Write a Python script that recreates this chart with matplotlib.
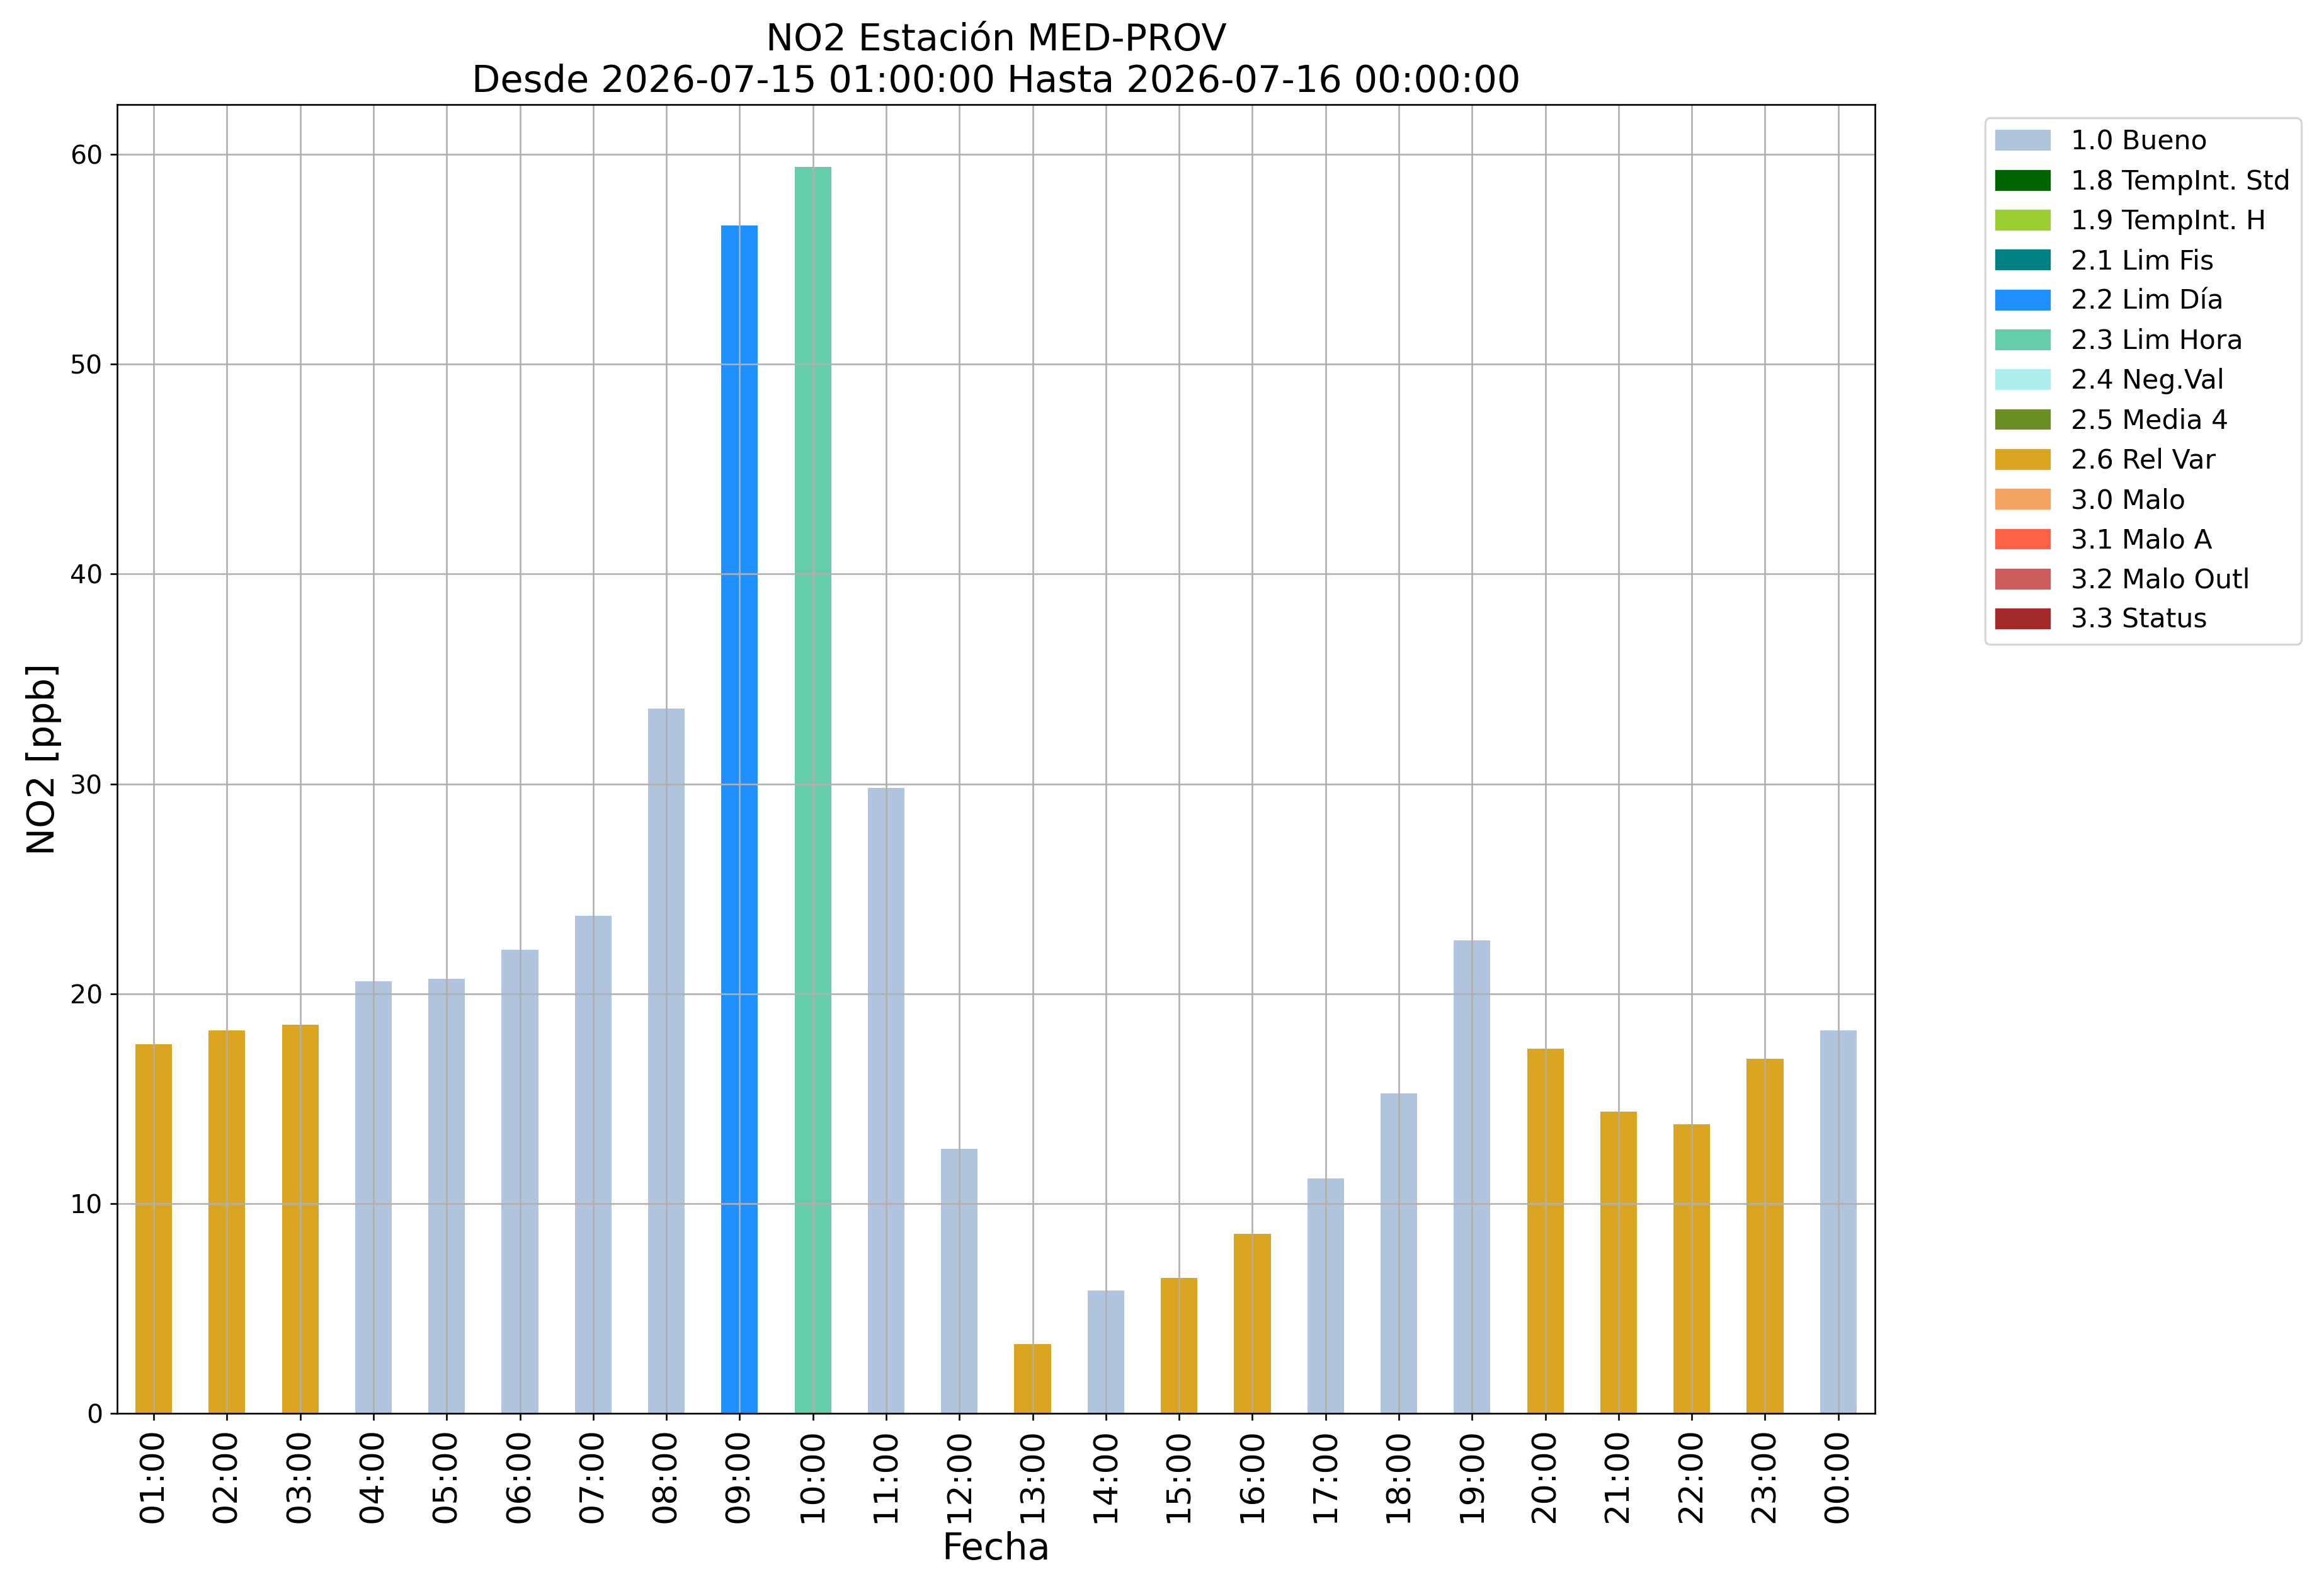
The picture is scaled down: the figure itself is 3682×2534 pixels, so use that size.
import matplotlib
matplotlib.use('Agg')
import matplotlib.pyplot as plt
import matplotlib.patches as mpatches
import numpy as np

# Datos NO2 por hora
horas = ['01:00', '02:00', '03:00', '04:00', '05:00', '06:00', '07:00', '08:00',
         '09:00', '10:00', '11:00', '12:00', '13:00', '14:00', '15:00', '16:00',
         '17:00', '18:00', '19:00', '20:00', '21:00', '22:00', '23:00', '00:00']
valores = [17.58, 18.24, 18.52, 20.58, 20.70, 22.1, 23.7, 33.6,
           56.6, 59.4, 29.8, 12.6, 3.3, 5.85, 6.45, 8.55,
           11.2, 15.25, 22.55, 17.39, 14.37, 13.77, 16.89, 18.26]
flags = ['2.6', '2.6', '2.6', '1.0', '1.0', '1.0', '1.0', '1.0',
         '2.2', '2.3', '1.0', '1.0', '2.6', '1.0', '2.6', '2.6',
         '1.0', '1.0', '1.0', '2.6', '2.6', '2.6', '2.6', '1.0']

# Codigos de validacion
codigos = ['1.0', '1.8', '1.9', '2.1', '2.2', '2.3', '2.4', '2.5', '2.6',
           '3.0', '3.1', '3.2', '3.3']
etiquetas = ['1.0 Bueno', '1.8 TempInt. Std', '1.9 TempInt. H', '2.1 Lim Fis',
             '2.2 Lim Día', '2.3 Lim Hora', '2.4 Neg.Val', '2.5 Media 4',
             '2.6 Rel Var', '3.0 Malo', '3.1 Malo A', '3.2 Malo Outl', '3.3 Status']
colores = ['lightsteelblue', 'darkgreen', 'yellowgreen', 'teal', 'dodgerblue',
           'mediumaquamarine', 'paleturquoise', 'olivedrab', 'goldenrod',
           'sandybrown', 'tomato', 'indianred', 'brown']

dpi = 236
fig = plt.figure(figsize=(3682 / dpi, 2534 / dpi), dpi=dpi)
ax = fig.add_axes([0.0505, 0.1144, 0.758, 0.8201])

x = np.arange(len(horas))
for cod, col in zip(codigos, colores):
    alturas = [v if f == cod else 0 for v, f in zip(valores, flags)]
    ax.bar(x, alturas, width=0.5, color=col)

ax.set_xlim(-0.5, len(horas) - 0.5)
ax.set_xticks(x)
ax.set_xticklabels(horas, rotation=90, fontsize=16)
ax.tick_params(axis='y', labelsize=12.5)
ax.grid(True)

ax.set_title('NO2 Estación MED-PROV\nDesde 2026-07-15 01:00:00 Hasta 2026-07-16 00:00:00',
             fontsize=18)
ax.set_xlabel('Fecha', fontsize=18)
ax.set_ylabel('NO2 [ppb]', fontsize=18)

handles = [mpatches.Patch(color=c, label=l) for c, l in zip(colores, etiquetas)]
ax.legend(handles=handles, bbox_to_anchor=(1.055, 1), loc='upper left',
          fontsize=13)

fig.savefig('out.png', dpi=dpi)
